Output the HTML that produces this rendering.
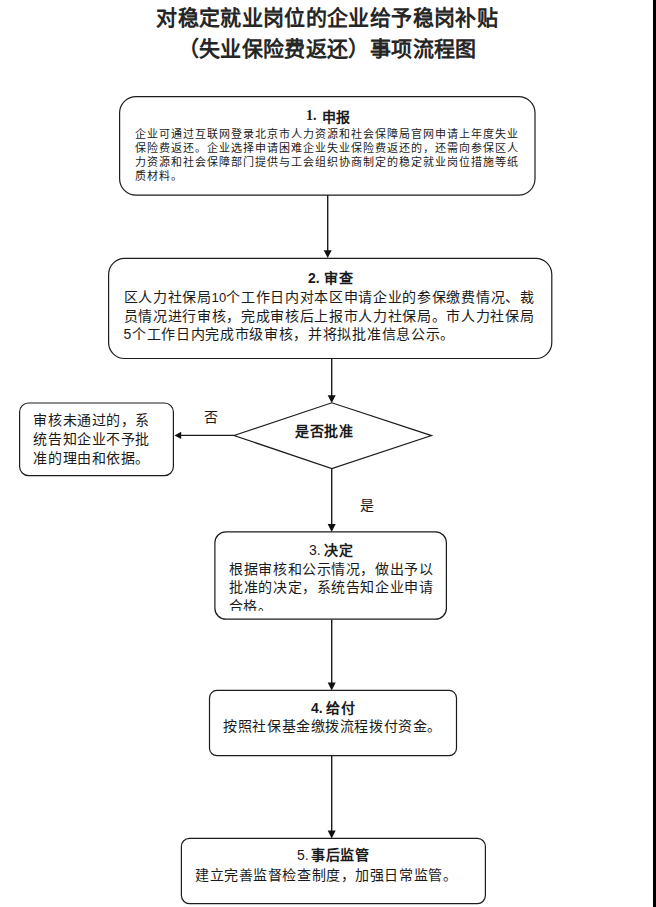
<!DOCTYPE html>
<html lang="zh-CN"><head><meta charset="utf-8">
<style>
html,body{margin:0;padding:0;background:#fff;}
body{width:656px;height:907px;position:relative;overflow:hidden;font-family:"Liberation Sans",sans-serif;color:#1a1a1a;}
.t{position:absolute;white-space:nowrap;line-height:1;}
.hd{font-family:"Liberation Sans",sans-serif;font-weight:bold;font-size:14px;}
.hc{font-weight:bold;font-size:14px;letter-spacing:0.5px;}
.s12{font-size:11px;letter-spacing:1px;}
.s14{font-size:14px;letter-spacing:0.57px;}
.ttl{left:-0.9px;width:656px;text-align:center;font-family:"Liberation Serif",serif;font-size:21px;letter-spacing:0.36px;font-weight:bold;color:#262626;}
svg{position:absolute;left:0;top:0;}
</style></head><body>
<svg width="656" height="907" viewBox="0 0 656 907">
<g fill="none" stroke="#1c1c1c" stroke-width="1.2">
<rect x="119.6" y="96.6" width="415.4" height="98.6" rx="16.5" ry="16.5"/>
<rect x="108.6" y="258.4" width="443.2" height="100.1" rx="16" ry="16"/>
<rect x="19.6" y="403" width="153.8" height="72.6" rx="9" ry="9"/>
<polygon points="234,435.5 331.8,402.8 431.5,435.6 331.8,468.5"/>
<rect x="214.9" y="531.8" width="231.5" height="87.4" rx="11" ry="11"/>
<rect x="209.5" y="690.4" width="247" height="65.3" rx="7.5" ry="7.5"/>
<rect x="181.4" y="838.4" width="304" height="65.2" rx="8" ry="8"/>
<line x1="327.7" y1="195" x2="327.7" y2="251" stroke-width="1.4"/>
<line x1="331.7" y1="358.4" x2="331.7" y2="396" stroke-width="1.4"/>
<line x1="331.7" y1="468.5" x2="331.7" y2="525" stroke-width="1.4"/>
<line x1="331.7" y1="619.4" x2="331.7" y2="683" stroke-width="1.4"/>
<line x1="331.7" y1="755.8" x2="331.7" y2="831" stroke-width="1.4"/>
<line x1="234" y1="435.4" x2="180" y2="435.4" stroke-width="1.4"/>
</g>
<g fill="#111">
<polygon points="323.7,250.2 331.7,250.2 327.7,258"/>
<polygon points="327.7,395.3 335.7,395.3 331.7,403"/>
<polygon points="327.7,524 335.7,524 331.7,532"/>
<polygon points="327.7,682.5 335.7,682.5 331.7,690.4"/>
<polygon points="327.7,830.5 335.7,830.5 331.7,838.4"/>
<polygon points="181.2,431.8 181.2,439 174.5,435.4"/>
</g>
</svg>

<div class="t ttl" style="top:8px;">对稳定就业岗位的企业给予稳岗补贴</div>
<div class="t ttl" style="top:38.5px;">（失业保险费返还）事项流程图</div>

<div class="t s12" style="left:135px;top:128.5px;">企业可通过互联网登录北京市人力资源和社会保障局官网申请上年度失业</div>
<div class="t s12" style="left:135px;top:142.8px;">保险费返还。企业选择申请困难企业失业保险费返还的，还需向参保区人</div>
<div class="t s12" style="left:135px;top:157.1px;">力资源和社会保障部门提供与工会组织协商制定的稳定就业岗位措施等纸</div>
<div class="t s12" style="left:135px;top:171.4px;">质材料。</div>

<div class="t s14" style="left:123.5px;top:290px;letter-spacing:0.68px;">区人力社保局<span style="font-size:13px;letter-spacing:0.1px;">10</span>个工作日内对本区申请企业的参保缴费情况、裁</div>
<div class="t s14" style="left:123.5px;top:308.5px;letter-spacing:0.68px;">员情况进行审核，完成审核后上报市人力社保局。市人力社保局</div>
<div class="t s14" style="left:123.5px;top:327px;letter-spacing:0.68px;">5个工作日内完成市级审核，并将拟批准信息公示。</div>

<div class="t s14" style="left:33.4px;top:413px;">审核未通过的，系</div>
<div class="t s14" style="left:33.4px;top:432px;">统告知企业不予批</div>
<div class="t s14" style="left:33.4px;top:451px;">准的理由和依据。</div>

<div class="t s14" style="left:204.3px;top:409.5px;">否</div>
<div class="t s14" style="left:295px;top:424px;font-weight:bold;">是否批准</div>
<div class="t s14" style="left:359.7px;top:497.5px;">是</div>

<div class="t s14" style="left:229.3px;top:561.7px;">根据审核和公示情况，做出予以</div>
<div class="t s14" style="left:229.3px;top:580.2px;">批准的决定，系统告知企业申请</div>
<div style="position:absolute;left:220px;top:596px;width:200px;height:15px;overflow:hidden;">
<div class="t s14" style="left:8.8px;top:3px;">合格。</div></div>

<div class="t s14" style="left:223.3px;top:719px;">按照社保基金缴拨流程拨付资金。</div>

<div class="t s14" style="left:195px;top:867.5px;">建立完善监督检查制度，加强日常监管。</div>

<div class="t hd" style="left:306px;top:109px;font-family:'Liberation Serif',serif;">1.</div><div class="t hc" style="left:321.5px;top:110px;">申报</div>
<div class="t hd" style="left:308px;top:271px;">2.</div><div class="t hc" style="left:324px;top:271px;">审查</div>
<div class="t hd" style="left:309px;top:543px;font-weight:normal;">3.</div><div class="t hc" style="left:324px;top:543px;">决定</div>
<div class="t hd" style="left:311px;top:701px;">4.</div><div class="t hc" style="left:326px;top:701px;">给付</div>
<div class="t hd" style="left:297px;top:848px;font-weight:normal;">5.</div><div class="t hc" style="left:311px;top:848px;">事后监管</div>
<div style="position:absolute;left:653px;top:0;width:3px;height:907px;background:#000;"></div>
</body></html>
